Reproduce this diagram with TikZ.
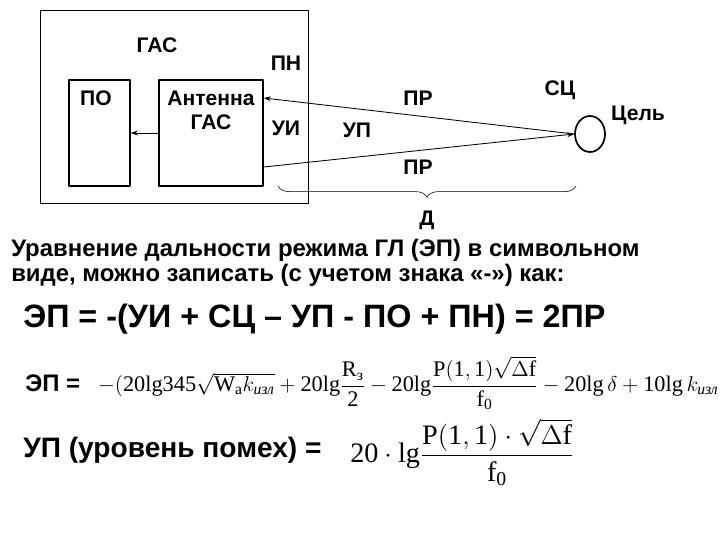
\documentclass[tikz,border=0pt]{standalone}
\usepackage{amsmath}
\usepackage{fontspec}
\setmainfont{Liberation Sans}
\setmathrm{Liberation Serif}
\newfontfamily\serif{Liberation Serif}
\usetikzlibrary{arrows.meta,decorations.pathreplacing,shapes.geometric,positioning}
\newcommand\izl{\text{\normalfont\serif\itshape изл}}
\begin{document}
\begin{tikzpicture}[x=0.025cm, y=-0.025cm, line join=round, >={Stealth[length=5pt,width=3.5pt]},
  font=\bfseries\fontsize{15}{17}\selectfont,
  block/.style={draw, line width=1.1pt, minimum height=2.65cm, inner sep=0pt},
  ray/.style={line width=0.6pt},
  txt/.style={anchor=west, inner sep=0pt}]
\useasboundingbox (0,0) rectangle (720,540);
% Корпус ГАС и блоки
\node[draw, thin, minimum width=6.7cm, minimum height=4.825cm, inner sep=0pt] (gas) at (174,106.5) {};
\node[block, minimum width=1.525cm] (po) at (99.5,133) {};
\node[block, minimum width=2.6cm] (ant) at (211,133) {};
\node (gaslbl) at (157,45) {ГАС};
\node (polbl) at (96,98) {ПО};
\node[align=center] (antlbl) at (211,110) {Антенна\\ГАС};
\node (pn) at (286,63) {ПН};
\node (ui) at (286,128) {УИ};

% Цель
\node[draw, ellipse, line width=1.2pt, minimum width=0.75cm, minimum height=0.9cm, inner sep=0pt] (tgt) at (590,134) {};
\node (sc) at (560,90) {СЦ};
\node (goal) at (638,115) {Цель};

% Лучи
\coordinate (antup) at (ant.east |- 0,98);
\coordinate (antlo) at (ant.east |- 0,167);
\draw[ray, ->] (ant.west) -- (po.east);
\draw[ray, ->] (tgt.west) -- (antup);
\draw[ray, ->] (antlo) -- (tgt.west);
\node (prup) at (418,98) {ПР};
\node (up) at (357,130) {УП};
\node (prlo) at (418,167) {ПР};

% Дальность
\coordinate (dl) at (278,186);
\coordinate (dr) at (576,186);
\draw[thin, decorate, decoration={brace, mirror, amplitude=8pt}] (dl) -- (dr);
\node (dist) at (427,220) {Д};

% Уравнения
\node[txt, font=\bfseries\fontsize{17}{20}\selectfont] (txt1) at (11,250) {Уравнение дальности режима ГЛ (ЭП) в символьном};
\node[txt, font=\bfseries\fontsize{17}{20}\selectfont] (txt2) at (11,275) {виде, можно записать (с учетом знака «-») как:};
\node[txt, font=\bfseries\fontsize{23}{27}\selectfont] (eqsym) at (23,319) {ЭП = -(УИ + СЦ – УП - ПО + ПН) = 2ПР};
\node[txt, font=\bfseries\fontsize{17}{20}\selectfont] (eplbl) at (25,383) {ЭП =};
\node[txt] (epfrm) at (98,383) {\resizebox{15.5cm}{!}{$-\mathrm{(20lg345}\sqrt{\mathrm{W_a}k_{\izl}}+\mathrm{20lg}\dfrac{\mathrm{R}_{\text{\normalfont\serif з}}}{\mathrm{2}}-\mathrm{20lg}\dfrac{\mathrm{P(1,1)}\sqrt{\Delta\mathrm{f}}}{\mathrm{f_0}}-\mathrm{20lg}\,\delta+\mathrm{10lg}\,k_{\izl}$}};
\node[txt, font=\bfseries\fontsize{20}{23}\selectfont] (uplbl) at (23,450) {УП (уровень помех) =};
\node[txt] (upfrm) at (350,452) {\resizebox{5.6cm}{!}{$\mathrm{20}\cdot\mathrm{lg}\dfrac{\mathrm{P(1,1)}\cdot\sqrt{\Delta\mathrm{f}}}{\mathrm{f_0}}$}};
\end{tikzpicture}
\end{document}
